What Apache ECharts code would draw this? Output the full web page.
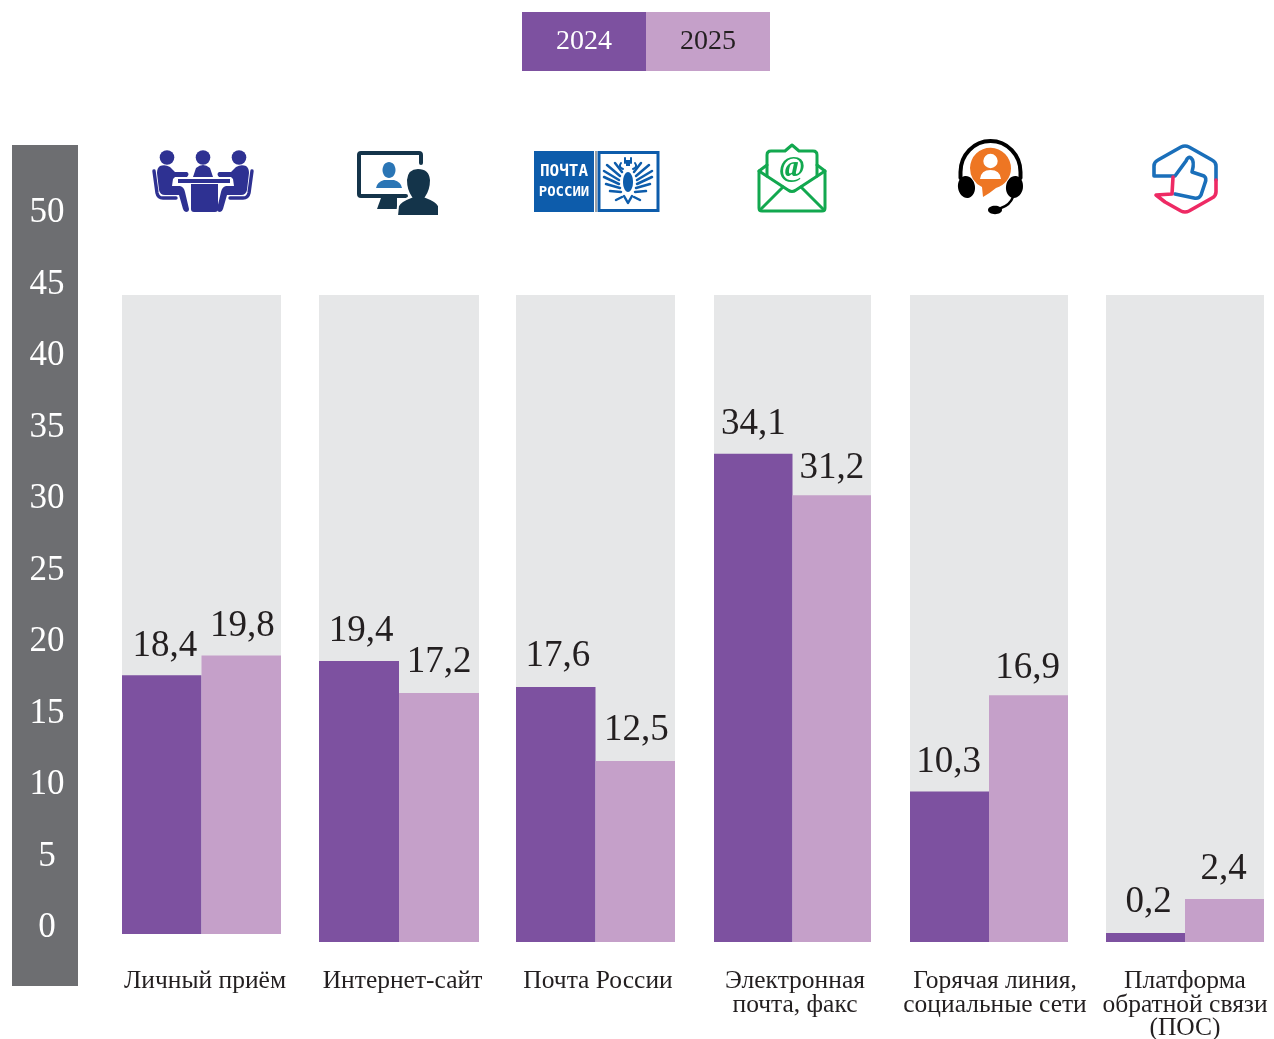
<!DOCTYPE html>
<html>
<head>
<meta charset="utf-8">
<style>html,body{margin:0;padding:0;background:#fff}#c{width:1274px;height:1039px}</style>
<script src="https://cdn.jsdelivr.net/npm/echarts@6/dist/echarts.min.js"></script>
</head>
<body>
<div id="c"></div>
<script>
const categories = ['Личный приём','Интернет-сайт','Почта России','Электронная\nпочта, факс','Горячая линия,\nсоциальные сети','Платформа\nобратной связи\n(ПОС)'];
const values2024 = [18.4,19.4,17.6,34.1,10.3,0.2];
const values2025 = [19.8,17.2,12.5,31.2,16.9,2.4];
const seriesNames = ['2024','2025'];
const axisMin = 0, axisMax = 50, axisStep = 5;

const panelLeft = [122,319,516,714,910,1106];
const panelWidth = [159,160,159,157,158,158];
const panelBottom = [934,942,942,942,942,942];
const panelPxPerUnit = [14.06,14.48,14.49,14.32,14.6,17.88];
const panelLabelShift = [7,7,5,5,12,0];
const labelNudge = [
  [[3,0],[2,0],[2,-1.5],[0,0],[-1,0],[3,-1.5]],
  [[1,0],[0,-1.5],[1,-1.5],[0,2.5],[-1,2.5],[-1,0]]
];
const panelTop = 295;
const DARK='#7D51A0', LIGHT='#C5A0C9', BG='#E6E7E8', INK='#231F20', AXIS='#6D6E71', FONT='"Liberation Serif", serif';

const grids=[{left:47,width:20,top:213,height:715,outerBoundsMode:'none'}], xAxes=[{gridIndex:0,type:'value',show:false}], yAxes=[{
  gridIndex:0,type:'value',min:axisMin,max:axisMax,interval:axisStep,z:5,
  axisLine:{show:false},axisTick:{show:false},splitLine:{show:false},
  axisLabel:{inside:true,margin:0,align:'center',color:'#fff',fontFamily:FONT,fontSize:35}
}], series=[];

categories.forEach((cat,i)=>{
  const g=i+1, h=panelBottom[i]-panelTop;
  grids.push({show:true,backgroundColor:BG,borderWidth:0,left:panelLeft[i],width:panelWidth[i],top:panelTop,height:h,outerBoundsMode:'none'});
  xAxes.push({gridIndex:g,type:'category',data:[cat],axisLine:{show:false},axisTick:{show:false},
    axisLabel:{interval:0,margin:28+(942-panelBottom[i]),verticalAlign:'top',color:INK,fontFamily:FONT,fontSize:25.5,lineHeight:23.5,
      padding:[0,0,0,panelLabelShift[i]]}});
  yAxes.push({gridIndex:g,type:'value',min:0,max:h/panelPxPerUnit[i],show:false});
  [values2024,values2025].forEach((vals,k)=>{
    series.push({name:seriesNames[k],type:'bar',xAxisIndex:g,yAxisIndex:g,data:[vals[i]],
      barGap:0,barCategoryGap:0,barMinHeight:9,itemStyle:{color:k?LIGHT:DARK},
      label:{show:true,position:'top',distance:11,offset:labelNudge[k][i],color:INK,fontFamily:FONT,fontSize:37,
        formatter:p=>String(p.value).replace('.',',')}});
  });
});

const DB='#2E3192', NAVY='#14344A', MID='#2A75B5', POST='#0D5CAB', GREEN='#12A84F', ORANGE='#EE7623', SB='#1A6FBA', PINK='#EE2A64';
let shapeNo=0;
const shapeOf=d=>{const n='iconShape'+(shapeNo++);echarts.graphic.registerShape(n,echarts.graphic.extendPath(d,{}));return n;};
const fill=(d,c)=>({type:shapeOf(d),style:{fill:c}});
const line=(d,c,w)=>({type:shapeOf(d),style:{fill:'none',stroke:c,lineWidth:w,lineCap:'round',lineJoin:'round'}});
const circle=(x,y,r,c)=>({type:'circle',shape:{cx:x,cy:y,r},style:{fill:c}});
const ell=(x,y,a,b,c,rot)=>({type:'group',x:x,y:y,rotation:rot||0,children:[{type:'ellipse',shape:{cx:0,cy:0,rx:a,ry:b},style:{fill:c}}]});
const rect=(x,y,w,h,c)=>({type:'rect',shape:{x,y,width:w,height:h},style:{fill:c}});

const sitter=[
  circle(167,157.5,7.3,DB),
  fill('M160 166 Q165 164 170 167 L175 172 L187 172 Q190 174 187 177 L175 177 L173 179 L172 186 L180 186 Q184 187 185 192 L189 209 Q189 212 186 212 Q184 212 183 209 L179 195 L165 195 Q160 195 159 190 L157 173 Q157 168 160 166 Z',DB),
  line('M154 171 L157 193 Q158 198 163 198 L176 198',DB,3.4)
];
const eagleHalf=[
  line('M620 176 L607 165 M619 180 L604 171 M619 184 L604 177 M620 188 L606 184 M621 192 L610 191 M622 172 L615 163 M622 197 L616 200',POST,2.5),
  line('M623 169 Q618 167 621 163 M625 158 L625 163',POST,2)
];
const icons=[
  ...sitter,
  {type:'group',x:406,scaleX:-1,children:sitter.map(o=>JSON.parse(JSON.stringify(o)))},
  circle(203,157.5,7.3,DB),
  fill('M193 177 L196 168 Q203 162 210 168 L213 177 Z',DB),
  rect(178,179,52,4,DB),
  fill('M191 184 L218 184 L218 209 Q218 212 215 212 L194 212 Q191 212 191 209 Z',DB),

  line('M421 163 L421 155 Q421 153 419 153 L361 153 Q359 153 359 155 L359 194 Q359 196 361 196 L406 196',NAVY,4),
  fill('M381 198 L397 198 L397 209 L377 209 Z',NAVY),
  ell(389,170,6.5,8,MID),
  fill('M376 188 Q377 182 384 180 L394 180 Q401 182 402 188 Z',MID),
  {type:shapeOf('M397 216 L398 206 Q400 201 411 197 Q406 190 406 180 Q407 168 418 168 Q430 168 431 180 Q431 190 426 197 Q437 201 439 206 L439 216 Z'),style:{fill:NAVY,stroke:'#fff',lineWidth:2}},

  rect(534,151,60,61,POST),
  rect(595,151,2,61,'#9AA0A6'),
  {type:'rect',shape:{x:599,y:152.5,width:59,height:58},style:{fill:'#fff',stroke:POST,lineWidth:3}},
  {type:'text',style:{x:564,y:172,text:'ПОЧТА',fill:'#fff',font:'bold 16px "DejaVu Sans Mono", monospace',align:'center',verticalAlign:'middle'}},
  {type:'text',style:{x:564,y:192,text:'РОССИИ',fill:'#fff',font:'bold 14px "DejaVu Sans Mono", monospace',align:'center',verticalAlign:'middle'}},
  ...eagleHalf,
  {type:'group',x:1256,scaleX:-1,children:eagleHalf.map(o=>JSON.parse(JSON.stringify(o)))},
  ell(628,182,5,10,POST),
  rect(626,160,4,6,POST),
  line('M624 196 L628 203 L632 196',POST,2.5),

  line('M767 176 L767 155 Q767 151 771 151 L785 151 L792 145 L799 151 L813 151 Q817 151 817 155 L817 176',GREEN,3),
  line('M767 165 L759 171 L759 208 Q759 211 762 211 L822 211 Q825 211 825 208 L825 171 L817 165',GREEN,3),
  line('M759 171 L788 190 Q792 193 796 190 L825 171',GREEN,3),
  line('M760 210 L783 187 M824 210 L801 187',GREEN,3),
  {type:'text',style:{x:792,y:168,text:'@',fill:GREEN,font:'italic bold 30px "Liberation Serif", serif',align:'center',verticalAlign:'middle'}},

  fill('M970 168 A20.5 20.5 0 1 1 996 188 Q990 193 983 197 L982 187 Q970 181 970 168 Z',ORANGE),
  circle(990.5,161,7.2,'#fff'),
  fill('M980 179 Q981 170 990.5 170 Q1000 170 1001 179 Z','#fff'),
  line('M960.5 178 L960.5 172 A30 31 0 0 1 1020.5 172 L1020.5 178','#000',4),
  ell(966.5,187,8.5,11,'#000',0.15),
  ell(1014.5,187,8.5,11,'#000',-0.15),
  line('M1013 197 Q1010 205 1001 208','#000',2.4),
  ell(995,210,7,4.2,'#000'),

  line('M1216 180 L1216 166 Q1216 162 1212 160 L1189 147 Q1185 145 1181 147 L1158 160 Q1154 162 1154 166 L1154 176 L1175 176 L1186 161 Q1188 156 1191 158 Q1195 161 1192 172 L1204 176 Q1207 178 1205 183 L1201 195 Q1199 199 1194 198 L1175 194',SB,3.6),
  line('M1216 180 L1216 192 Q1216 196 1212 198 L1189 211 Q1185 213 1181 211 L1165 202 L1156 195 L1172 194 L1173 177',PINK,3.6)
];

const legendText=(bg,color)=>({backgroundColor:bg,color,width:90,height:59,lineHeight:59,padding:[0,0,0,34],verticalAlign:'middle',fontFamily:FONT,fontSize:28});
const chart=echarts.init(document.getElementById('c'),null,{renderer:'canvas'});
chart.setOption({
  animation:false,
  backgroundColor:'#fff',
  legend:{
    data:[
      {name:'2024',icon:'none',textStyle:legendText(DARK,'#fff')},
      {name:'2025',icon:'none',textStyle:legendText(LIGHT,INK)}
    ],
    left:517,top:12,itemWidth:0,itemHeight:0,itemGap:-5,padding:0,selectedMode:false
  },
  graphic:[
    {type:'rect',z:-1,shape:{x:12,y:145,width:66,height:841},style:{fill:AXIS}},
    {type:'group',children:icons}
  ],
  grid:grids,xAxis:xAxes,yAxis:yAxes,series
});
</script>
</body>
</html>
